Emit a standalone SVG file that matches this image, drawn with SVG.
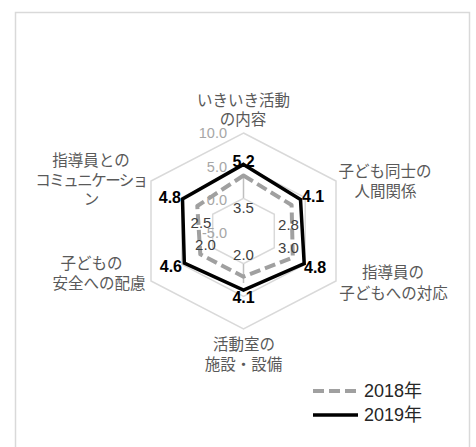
<svg xmlns="http://www.w3.org/2000/svg" width="476" height="447" viewBox="0 0 476 447">
<style>
.grid{fill:none;stroke:#d9d9d9;stroke-width:1.5}
.axis{stroke:#bfbfbf;stroke-width:1.5}
.s2018{fill:none;stroke:#a0a0a0;stroke-width:4;stroke-dasharray:11 5;stroke-linejoin:round}
.s2019{fill:none;stroke:#000;stroke-width:3.5;stroke-linejoin:miter}
.ax{font-family:"Liberation Sans",Arial,sans-serif;font-size:14.5px;fill:#a6a6a6;text-anchor:end}
.v19{font-family:"Liberation Sans",Arial,sans-serif;font-size:16px;font-weight:bold;fill:#000}
.v18{font-family:"Liberation Sans",Arial,sans-serif;font-size:15px;fill:#404040;text-anchor:middle}
.cat{font-family:"Noto Sans CJK JP",sans-serif;font-size:15.5px;fill:#595959;text-anchor:middle}
.leg{font-family:"Liberation Sans","Noto Sans CJK JP",sans-serif;font-size:18px;fill:#262626}
</style>
<rect x="0" y="0" width="476" height="447" fill="#fff"/>
<rect x="15.5" y="12.5" width="454" height="450" fill="#fff" stroke="#d9d9d9" stroke-width="1.5"/>
<g id="gridlines">
<polygon class="grid" points="243.5,133 336,181 336,281 243.5,329 151,281 151,181"/>
<polygon class="grid" points="243.5,165.7 305.2,197.7 305.2,264.3 243.5,296.3 181.8,264.3 181.8,197.7"/>
<polygon class="grid" points="243.5,198.3 274.3,214.3 274.3,247.7 243.5,263.7 212.7,247.7 212.7,214.3"/>
<line class="axis" x1="243.5" y1="177" x2="243.5" y2="198"/>
<line class="axis" x1="243.5" y1="264" x2="243.5" y2="283"/>
</g>
<g id="axis-labels">
<text class="ax" x="227" y="138">10.0</text>
<text class="ax" x="227" y="172">5.0</text>
<text class="ax" x="227" y="205">0.0</text>
<text class="ax" x="227" y="238">-5.0</text>
</g>
<g id="connectors">
<polygon id="series-2018" class="s2018" points="243.5,175.5 291.6,205 292.8,257.7 243.5,276.7 200.3,254.3 197.3,206"/>
<polygon id="series-2019" class="s2019" points="243.5,164.4 300.5,199.5 304.2,263.7 243.5,290 184.3,263 182.5,199"/>
</g>
<g id="values-2018">
<text class="v18" x="243.5" y="213">3.5</text>
<text class="v18" x="288.5" y="230">2.8</text>
<text class="v18" x="288.5" y="253">3.0</text>
<text class="v18" x="243.5" y="260">2.0</text>
<text class="v18" x="205.5" y="250">2.0</text>
<text class="v18" x="201" y="228">2.5</text>
</g>
<g id="values-2019">
<text class="v19" x="243.5" y="167" text-anchor="middle">5.2</text>
<text class="v19" x="302" y="202">4.1</text>
<text class="v19" x="304" y="273">4.8</text>
<text class="v19" x="243.5" y="303" text-anchor="middle">4.1</text>
<text class="v19" x="182" y="272" text-anchor="end">4.6</text>
<text class="v19" x="181" y="203" text-anchor="end">4.8</text>
</g>
<g id="cat-top">
<text class="cat" x="243.5" y="106">いきいき活動</text>
<text class="cat" x="243" y="125">の内容</text>
</g>
<g id="cat-upper-right">
<text class="cat" x="385" y="177">子ども同士の</text>
<text class="cat" x="385.5" y="197">人間関係</text>
</g>
<g id="cat-lower-right">
<text class="cat" x="393" y="278">指導員の</text>
<text class="cat" x="393.5" y="299">子どもへの対応</text>
</g>
<g id="cat-bottom">
<text class="cat" x="244" y="350">活動室の</text>
<text class="cat" x="243.5" y="370">施設・設備</text>
</g>
<g id="cat-lower-left">
<text class="cat" x="91.5" y="269">子どもの</text>
<text class="cat" x="99" y="289">安全への配慮</text>
</g>
<g id="cat-upper-left">
<text class="cat" x="91" y="166">指導員との</text>
<text class="cat" x="91" y="186" style="letter-spacing:-1.5px">コミュニケーショ</text>
<text class="cat" x="91.5" y="205">ン</text>
</g>
<g id="legend">
<line class="s2018" x1="313" y1="391" x2="358" y2="391"/>
<text class="leg" x="364" y="397">2018年</text>
<line class="s2019" x1="313" y1="415" x2="358" y2="415"/>
<text class="leg" x="364" y="421">2019年</text>
</g>
</svg>
